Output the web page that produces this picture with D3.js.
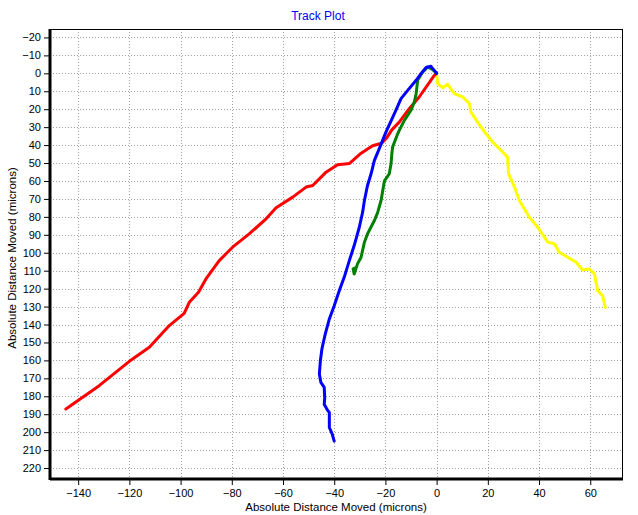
<!DOCTYPE html>
<html><head><meta charset="utf-8">
<script src="https://cdn.jsdelivr.net/npm/d3@7"></script>
<style>body{margin:0;background:#fff}svg{display:block}</style>
</head><body>
<svg id="c" width="638" height="515"></svg>
<script>
const title = "Track Plot";
const xTitle = "Absolute Distance Moved (microns)";
const yTitle = "Absolute Distance Moved (microns)";
const xTicks = [-140,-120,-100,-80,-60,-40,-20,0,20,40,60];
const yTicks = [-20,-10,0,10,20,30,40,50,60,70,80,90,100,110,120,130,140,150,160,170,180,190,200,210,220];

const yellowTrack = [[0,0],[0.4,5.7],[2.3,8.0],[4.3,6.1],[6.9,11.3],[10.2,13.2],[12.8,16.9],[13.4,21.6],[16.0,27.2],[19.3,33.7],[21.9,38.3],[25.2,43.0],[27.7,46.7],[28.1,56.0],[30.4,63.4],[32.3,70.9],[36.2,80.2],[39.5,85.8],[43.4,94.1],[46.0,95.0],[47.9,99.7],[51.2,102.5],[54.5,105.3],[57.0,109.6],[59.6,109.0],[61.6,111.8],[62.9,121.1],[64.8,123.9],[65.9,130.4]];
const redTrack = [[0,0],[-0.9,1.1],[-6.8,13.2],[-10.7,19.7],[-14.6,27.2],[-17.5,31.5],[-19.5,36],[-21.5,39],[-25,40.4],[-29.5,44.5],[-34,50.2],[-38.7,51],[-43.2,55.1],[-45.8,58.8],[-48.4,62.5],[-51,63.4],[-56.2,69],[-62.7,74.9],[-66.6,81.1],[-73.2,89.5],[-79.7,96.9],[-84.9,104.4],[-90.1,114.6],[-93,122],[-96.6,127.6],[-98.6,133.8],[-104.4,140.6],[-112.2,152.7],[-120,160.5],[-131.8,174.1],[-144.8,187.1]];
const greenTrack = [[0,0],[-1.5,-2],[-3.5,-3.5],[-5.5,-0.7],[-7.4,3.9],[-8,11.3],[-8.7,16],[-10,20.6],[-12.6,26.2],[-14.6,31.8],[-15.2,33.7],[-17.2,41.1],[-17.5,45],[-17.8,50.4],[-18.5,56],[-20.4,60],[-21.7,70.9],[-23,77.4],[-24.3,82],[-27,89.5],[-28.2,94.1],[-29.5,102.5],[-30.9,106.2],[-32.2,111.8],[-32.6,109],[-31.8,108.5]];
const blueTrack = [[0,0],[-1.5,-2.6],[-2.2,-3.9],[-4.1,-3.2],[-6.1,0.2],[-8,3.9],[-11.3,9.5],[-13.9,14.1],[-16.5,22.5],[-19.8,32.8],[-22.4,42],[-24.3,48.5],[-25.6,56],[-27,62.5],[-28.2,70.9],[-28.9,77.4],[-30.2,85.8],[-32.2,96],[-34.1,104.4],[-36.1,113.7],[-38,121.1],[-40,129.5],[-41.9,136.9],[-43.5,145.3],[-44.8,153.6],[-45.4,160.2],[-45.8,167.6],[-45.2,172.3],[-43.9,175],[-43.7,181],[-43.9,184.5],[-42.5,188],[-41.9,189],[-41.9,197.4],[-40.8,201],[-40,205]];

const series = [
  {data: yellowTrack, color: "#ffff00"},
  {data: redTrack, color: "#ff0000"},
  {data: greenTrack, color: "#008000"},
  {data: blueTrack, color: "#0000ff"}
];

const L = 50, R = 622, T = 29, B = 479;
const x = d3.scaleLinear().domain([-151, 72.4]).range([L, R]);
const y = d3.scaleLinear().domain([-24.7, 226.1]).range([T, B]);
const svg = d3.select("#c");
const font = "'Liberation Sans', Arial, sans-serif";

// grid
const g = svg.append("g");
g.selectAll(".gx").data(xTicks).join("line")
  .attr("x1", d => Math.round(x(d)) + 0.5).attr("x2", d => Math.round(x(d)) + 0.5)
  .attr("y1", T).attr("y2", B).attr("stroke", "#a0a0a0").attr("stroke-dasharray", "1,2");
g.selectAll(".gy").data(yTicks).join("line")
  .attr("y1", d => Math.round(y(d)) + 0.5).attr("y2", d => Math.round(y(d)) + 0.5)
  .attr("x1", L).attr("x2", R).attr("stroke", "#a0a0a0").attr("stroke-dasharray", "1,2");

// frame top/right
svg.append("rect").attr("x", L).attr("y", T + 0.5).attr("width", R - L + 0.5).attr("height", B - T)
  .attr("fill", "none").attr("stroke", "#000").attr("stroke-width", 1);

// tracks
const line = d3.line().x(d => x(d[0])).y(d => y(d[1]));
svg.append("g").selectAll("path").data(series).join("path")
  .attr("d", d => line(d.data)).attr("fill", "none")
  .attr("stroke", d => d.color).attr("stroke-width", 3)
  .attr("stroke-linejoin", "round").attr("stroke-linecap", "round");

// axes
const xMinor = d3.range(-150, 71, 5);
const yMinor = d3.range(-24, 226, 2);
const xa = svg.append("g").attr("transform", `translate(0,${B})`);
xa.call(d3.axisBottom(x).tickValues(xMinor).tickSize(3).tickFormat(""));
xa.call(d3.axisBottom(x).tickValues(xTicks).tickSize(6).tickPadding(4).tickFormat(d3.format("d")));
xa.selectAll(".domain").remove();
const ya = svg.append("g").attr("transform", `translate(${L},0)`);
ya.call(d3.axisLeft(y).tickValues(yMinor).tickSize(3).tickFormat(""));
ya.call(d3.axisLeft(y).tickValues(yTicks).tickSize(6).tickPadding(3).tickFormat(d3.format("d")));
ya.selectAll(".domain").remove();
svg.selectAll(".tick text").attr("font-family", font).attr("font-size", 11).attr("fill", "#000");
svg.selectAll(".tick line").attr("stroke", "#000");

// thick left/bottom axis lines
svg.append("line").attr("x1", L).attr("x2", L).attr("y1", T).attr("y2", B + 1).attr("stroke", "#000").attr("stroke-width", 3);
svg.append("line").attr("x1", L).attr("x2", R + 1).attr("y1", B).attr("y2", B).attr("stroke", "#000").attr("stroke-width", 3);

// titles
svg.append("text").attr("x", 318).attr("y", 20).attr("text-anchor", "middle")
  .attr("font-family", font).attr("font-size", 12).attr("fill", "#0000ff").text(title);
svg.append("text").attr("x", 336).attr("y", 511).attr("text-anchor", "middle")
  .attr("font-family", font).attr("font-size", 11.5).attr("fill", "#000").text(xTitle);
svg.append("text").attr("transform", "translate(16,258) rotate(-90)").attr("text-anchor", "middle")
  .attr("font-family", font).attr("font-size", 11.5).attr("fill", "#000").text(yTitle);
</script>
</body></html>
